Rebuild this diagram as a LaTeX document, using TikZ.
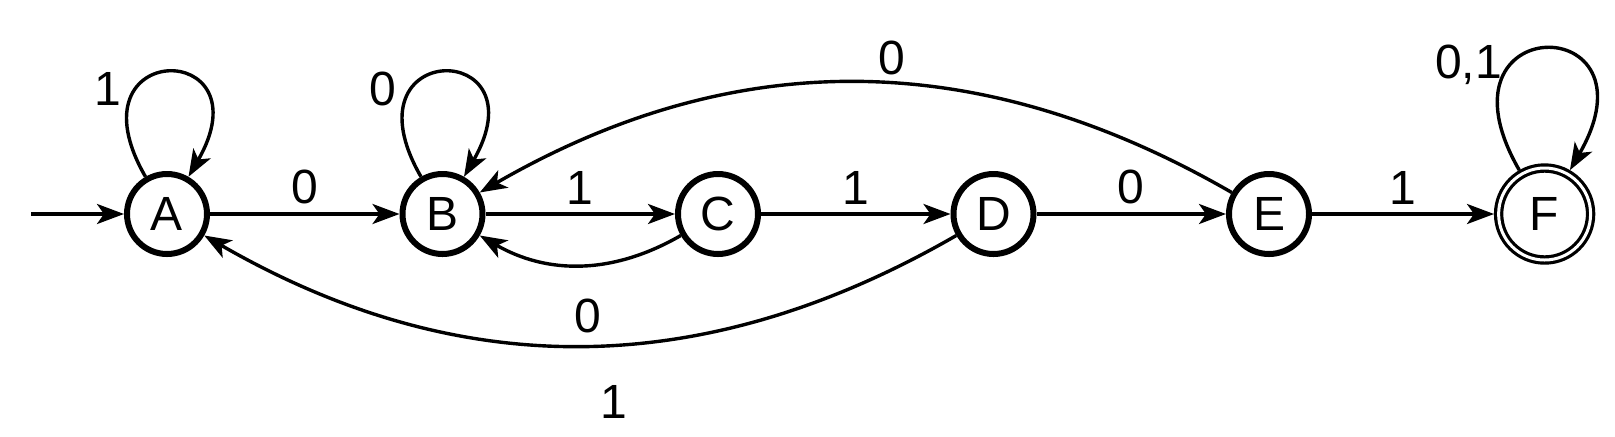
\documentclass[tikz,border=0pt]{standalone}
\usepackage{fontspec}
\setmainfont{Liberation Sans}
\usetikzlibrary{arrows.meta,positioning}
\tikzset{
  statecirc/.style={
    circle,
    draw=black,
    fill=white,
    line width=3pt,
    minimum size=40pt,
    inner sep=0pt,
    font=\fontsize{24pt}{28pt}\selectfont
  },
  acceptcirc/.style={
    statecirc,
    line width=1.6pt,
    double=white,
    double distance=1.5pt,
    minimum size=46pt,
    outer sep=2.3pt
  },
  arrow/.style={
    -{Stealth[length=13.5pt,width=10pt,inset=3.5pt]},
    line width=1.7pt,
    draw=black
  },
  edgelbl/.style={
    font=\fontsize{24pt}{28pt}\selectfont,
    inner sep=0pt
  }
}
\begin{document}
\begin{tikzpicture}[x=0.5pt, y=-0.5pt, node distance=94.75pt]
\useasboundingbox (0,0) rectangle (1615,436);
\node[statecirc] (A) at (167,214) {A};
\node[statecirc, right=of A] (B) {B};
\node[statecirc, right=of B] (C) {C};
\node[statecirc, right=of C] (D) {D};
\node[statecirc, right=of D] (E) {E};
\node[acceptcirc, right=91pt of E] (F) {F};
\coordinate (init) at (31,214);
% straight transitions
\draw[arrow] (init) -- (A);
\draw[arrow] (A) -- node[edgelbl, above=4pt] {0} (B);
\draw[arrow] (B) -- node[edgelbl, above=4pt] {1} (C);
\draw[arrow] (C) -- node[edgelbl, above=4pt] {1} (D);
\draw[arrow] (D) -- node[edgelbl, above=4pt] {0} (E);
\draw[arrow] (E) -- node[edgelbl, above=4pt] {1} (F);
% self loops
\draw[arrow] (A) to[out=120, in=60, min distance=80pt] node[edgelbl, pos=0.3, left=6pt] {1} (A);
\draw[arrow] (B) to[out=120, in=60, min distance=80pt] node[edgelbl, pos=0.3, left=6pt] {0} (B);
\draw[arrow] (F) to[out=120, in=60, min distance=93pt] node[edgelbl, pos=0.32, left=3pt] {0,1} (F);
% back transitions
\draw[arrow] (E) to[bend right=30] node[edgelbl, above=3pt, xshift=18pt] {0} (B);
\draw[arrow] (C) to[bend left=30] node[edgelbl, below=16pt, xshift=4pt] {0} (B);
\draw[arrow] (D) to[bend left=30] node[edgelbl, below=19pt, xshift=17pt] {1} (A);
\end{tikzpicture}
\end{document}
